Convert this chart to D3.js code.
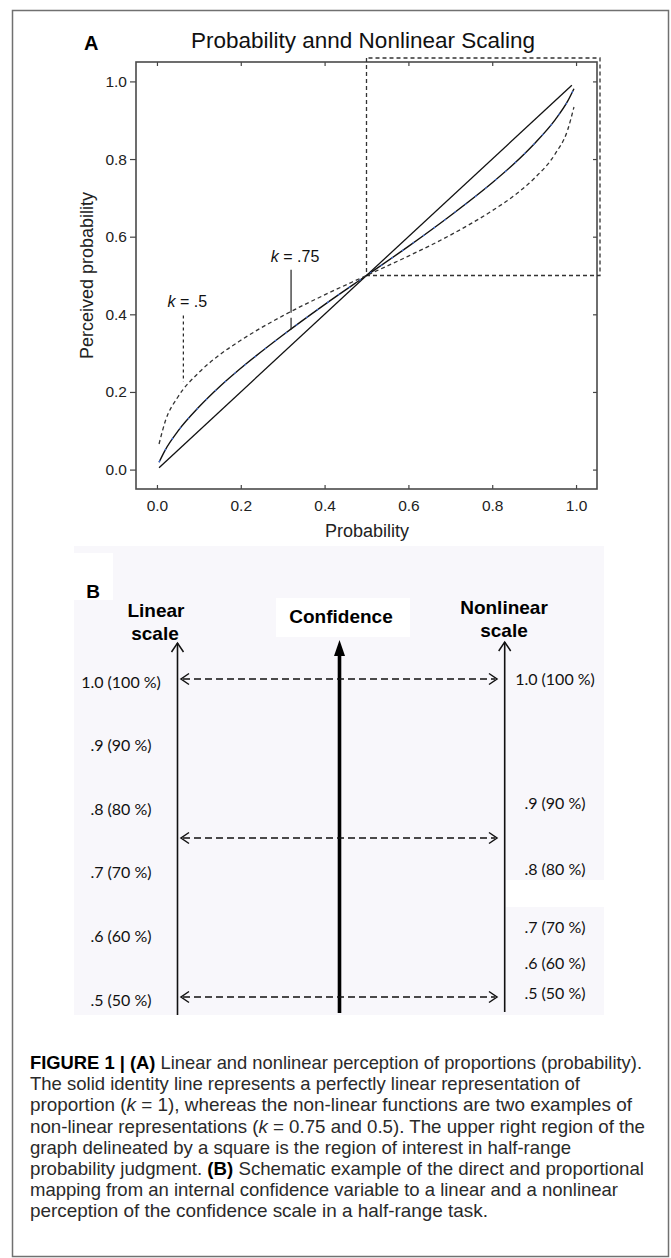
<!DOCTYPE html>
<html>
<head>
<meta charset="utf-8">
<script src="https://cdn.jsdelivr.net/npm/d3@7"></script>
<style>
  body { margin: 0; background: #fff; }
  svg { display: block; }
</style>
</head>
<body>
<div id="chart"></div>
<script>
// ---- Panel A data: probability vs perceived probability ----
const probGrid   = [0.005, 0.02, 0.05, 0.1, 0.15, 0.2, 0.3, 0.4, 0.5, 0.6, 0.7, 0.8, 0.85, 0.9, 0.95, 0.98, 0.995];
const k075Vals   = [0.019, 0.051, 0.099, 0.161, 0.214, 0.261, 0.346, 0.425, 0.5, 0.575, 0.654, 0.739, 0.786, 0.839, 0.901, 0.949, 0.981];
const k05Vals    = [0.066, 0.125, 0.187, 0.25, 0.296, 0.333, 0.396, 0.45, 0.5, 0.55, 0.604, 0.667, 0.704, 0.75, 0.813, 0.875, 0.934];
const identityX  = [0.005, 0.99];
const identityY  = [0.005, 0.99];
const axisTicks  = [0, 0.2, 0.4, 0.6, 0.8, 1.0];
const halfRange  = [0.5, 0.5];  // lower-left corner of the region of interest

// leader annotations: label, x value, top and bottom of the leader line
const kLabels  = ["k = .75", "k = .5"];
const kAt      = [0.32, 0.063];
const kTop     = [0.515, 0.397];
const kBottom  = [0.361, 0.226];

// ---- Panel B data: confidence mapped onto two scales ----
const linearTicks     = [1.0, 0.9, 0.8, 0.7, 0.6, 0.5];
const linearLabels    = ["1.0 (100 %)", ".9 (90 %)", ".8 (80 %)", ".7 (70 %)", ".6 (60 %)", ".5 (50 %)"];
const nonlinearTicks  = [1.0, 0.805, 0.70, 0.61, 0.553, 0.505];
const nonlinearLabels = ["1.0 (100 %)", ".9 (90 %)", ".8 (80 %)", ".7 (70 %)", ".6 (60 %)", ".5 (50 %)"];
const mappedLevels    = [1.0, 0.75, 0.5];

const captionLines = [
  [["b", "FIGURE 1 | (A)"], ["n", " Linear and nonlinear perception of proportions (probability)."]],
  [["n", "The solid identity line represents a perfectly linear representation of"]],
  [["n", "proportion ("], ["i", "k"], ["n", " = 1), whereas the non-linear functions are two examples of"]],
  [["n", "non-linear representations ("], ["i", "k"], ["n", " = 0.75 and 0.5). The upper right region of the"]],
  [["n", "graph delineated by a square is the region of interest in half-range"]],
  [["n", "probability judgment. "], ["b", "(B)"], ["n", " Schematic example of the direct and proportional"]],
  [["n", "mapping from an internal confidence variable to a linear and a nonlinear"]],
  [["n", "perception of the confidence scale in a half-range task."]]
];
const captionWidths = [612, 550, 602, 615, 541, 614, 588, 458];

const width = 671, height = 1258;
const sans = "'Liberation Sans', Arial, sans-serif";

const svg = d3.select("#chart")
    .append("svg")
    .attr("width", width)
    .attr("height", height);

svg.append("rect").attr("width", width).attr("height", height).attr("fill", "#fff");

// outer frame
svg.append("rect")
    .attr("x", 12.5).attr("y", 10.5)
    .attr("width", 656).attr("height", 1246)
    .attr("fill", "none")
    .attr("stroke", "#707070")
    .attr("stroke-width", 1.5);

// ================= Panel A =================
const x = d3.scaleLinear().domain([-0.05, 1.05]).range([136, 597]);
const y = d3.scaleLinear().domain([-0.05, 1.05]).range([489, 62]);

const gA = svg.append("g").style("font-family", sans);

gA.append("text")
    .attr("x", 84).attr("y", 50)
    .style("font-size", "20px").style("font-weight", "bold")
    .text("A");

gA.append("text")
    .attr("x", 363).attr("y", 48)
    .attr("text-anchor", "middle")
    .style("font-size", "22.5px")
    .attr("fill", "#111")
    .text("Probability annd Nonlinear Scaling");

const fmt = d3.format(".1f");

gA.append("g").attr("transform", "translate(136,0)")
    .call(d3.axisLeft(y).tickValues(axisTicks).tickSize(6).tickPadding(3).tickFormat(fmt));
gA.append("g").attr("transform", "translate(0,489)")
    .call(d3.axisBottom(x).tickValues(axisTicks).tickSize(-4).tickPadding(11).tickFormat(fmt));
gA.append("g").attr("transform", "translate(0,62)")
    .call(d3.axisTop(x).tickValues(axisTicks).tickSize(-4).tickFormat(""));
gA.append("g").attr("transform", "translate(597,0)")
    .call(d3.axisRight(y).tickValues(axisTicks).tickSize(-4).tickFormat(""));

gA.selectAll(".domain").remove();
gA.selectAll(".tick line").attr("stroke", "#444").attr("stroke-width", 1.2);
gA.selectAll(".tick text")
    .style("font-family", sans)
    .style("font-size", "15.5px")
    .attr("fill", "#222");

gA.append("rect")
    .attr("x", x.range()[0]).attr("y", y.range()[1])
    .attr("width", x.range()[1] - x.range()[0])
    .attr("height", y.range()[0] - y.range()[1])
    .attr("fill", "none")
    .attr("stroke", "#4a4a4a")
    .attr("stroke-width", 1.6);

gA.append("text")
    .attr("transform", "rotate(-90)")
    .attr("x", -y(0.5)).attr("y", 93)
    .attr("text-anchor", "middle")
    .style("font-size", "18px")
    .attr("fill", "#222")
    .text("Perceived probability");

gA.append("text")
    .attr("x", 367).attr("y", 537)
    .attr("text-anchor", "middle")
    .style("font-size", "18px")
    .attr("fill", "#222")
    .text("Probability");

// region of interest (dashed square)
gA.append("path")
    .attr("d", `M${x(halfRange[0])},58 L${x(halfRange[0])},${y(halfRange[1])} L600,${y(halfRange[1])} L600,58 Z`)
    .attr("fill", "none")
    .attr("stroke", "#333")
    .attr("stroke-width", 1.3)
    .attr("stroke-dasharray", "4,3");

const line = d3.line().x(d => x(d[0])).y(d => y(d[1])).curve(d3.curveMonotoneX);

gA.append("path")
    .datum(identityX.map((v, i) => [v, identityY[i]]))
    .attr("d", line)
    .attr("fill", "none")
    .attr("stroke", "#111")
    .attr("stroke-width", 1.3);

const k075 = probGrid.map((p, i) => [p, k075Vals[i]]);
gA.append("path").datum(k075).attr("d", line)
    .attr("fill", "none").attr("stroke", "#111").attr("stroke-width", 1.4);
gA.append("path").datum(k075).attr("d", line)
    .attr("fill", "none").attr("stroke", "#3d6fe0").attr("stroke-width", 1.1)
    .attr("stroke-dasharray", "2,11");

gA.append("path")
    .datum(probGrid.map((p, i) => [p, k05Vals[i]]))
    .attr("d", line)
    .attr("fill", "none")
    .attr("stroke", "#333")
    .attr("stroke-width", 1.3)
    .attr("stroke-dasharray", "4,3");

// k annotations
kLabels.forEach((lab, i) => {
    gA.append("line")
        .attr("x1", x(kAt[i])).attr("x2", x(kAt[i]))
        .attr("y1", y(kTop[i])).attr("y2", y(kBottom[i]))
        .attr("stroke", "#222")
        .attr("stroke-width", 1.2)
        .attr("stroke-dasharray", i === 0 ? "43,5" : "3,3");
    const t = gA.append("text")
        .attr("x", x(kAt[i]) + 4).attr("y", y(kTop[i]) - 8)
        .attr("text-anchor", "middle")
        .style("font-size", "16px")
        .attr("fill", "#111");
    t.append("tspan").style("font-style", "italic").text(lab.slice(0, 1));
    t.append("tspan").text(lab.slice(1));
});

// ================= Panel B =================
const yB = d3.scaleLinear().domain([0.5, 1]).range([997, 679]);
const linX = 177.5, confX = 339.5, nonX = 504.7;

const gB = svg.append("g");

gB.append("rect")
    .attr("x", 74).attr("y", 546).attr("width", 530).attr("height", 469)
    .attr("fill", "#f8f7fb");
gB.append("rect").attr("x", 74).attr("y", 553).attr("width", 39).attr("height", 47).attr("fill", "#fff");
gB.append("rect").attr("x", 276).attr("y", 598).attr("width", 134).attr("height", 39).attr("fill", "#fff");
gB.append("rect").attr("x", 506).attr("y", 880).attr("width", 98).attr("height", 27).attr("fill", "#fff");

const bold = { "font-family": sans, "font-weight": "bold", "font-size": "19px" };
function heading(txt, cx, by) {
    const t = gB.append("text").attr("x", cx).attr("y", by).attr("text-anchor", "middle").text(txt);
    Object.entries(bold).forEach(([k, v]) => t.style(k, v));
    return t;
}
heading("B", 93, 598);
heading("Linear", 156, 617);
heading("scale", 155, 640);
heading("Confidence", 341, 623);
heading("Nonlinear", 504, 614);
heading("scale", 504, 637);

// vertical scales
function openHead(cx, ty) {
    gB.append("path")
        .attr("d", `M${cx - 6},${ty + 9} L${cx},${ty} L${cx + 6},${ty + 9}`)
        .attr("fill", "none").attr("stroke", "#111").attr("stroke-width", 1.5);
}
gB.append("line").attr("x1", linX).attr("x2", linX).attr("y1", 643).attr("y2", 1015)
    .attr("stroke", "#111").attr("stroke-width", 1.6);
openHead(linX, 643);
gB.append("line").attr("x1", nonX).attr("x2", nonX).attr("y1", 642).attr("y2", 1012)
    .attr("stroke", "#111").attr("stroke-width", 1.6);
openHead(nonX, 642);
gB.append("line").attr("x1", confX).attr("x2", confX).attr("y1", 652).attr("y2", 1013)
    .attr("stroke", "#000").attr("stroke-width", 3.6);
gB.append("path")
    .attr("d", `M${confX - 5.5},${656} L${confX},${640} L${confX + 5.5},${656} Z`)
    .attr("fill", "#000");

// mapping arrows
mappedLevels.forEach(v => {
    const yy = yB(v);
    const x0 = 181, x1 = 497;
    gB.append("line").attr("x1", x0 + 2).attr("x2", x1 - 2).attr("y1", yy).attr("y2", yy)
        .attr("stroke", "#111").attr("stroke-width", 1.5).attr("stroke-dasharray", "7,4");
    gB.append("path").attr("d", `M${x0 + 8},${yy - 5.5} L${x0},${yy} L${x0 + 8},${yy + 5.5}`)
        .attr("fill", "none").attr("stroke", "#111").attr("stroke-width", 1.5);
    gB.append("path").attr("d", `M${x1 - 8},${yy - 5.5} L${x1},${yy} L${x1 - 8},${yy + 5.5}`)
        .attr("fill", "none").attr("stroke", "#111").attr("stroke-width", 1.5);
});

const labFont = "Lato, 'Open Sans', sans-serif";
gB.selectAll("text.lin")
    .data(linearTicks)
    .enter()
    .append("text")
    .classed("lin", true)
    .attr("x", 121)
    .attr("y", d => yB(d) + 3)
    .attr("dy", "0.35em")
    .attr("text-anchor", "middle")
    .style("font-family", labFont)
    .style("font-size", "16px")
    .attr("fill", "#111")
    .text((d, i) => linearLabels[i]);

gB.selectAll("text.non")
    .data(nonlinearTicks)
    .enter()
    .append("text")
    .classed("non", true)
    .attr("x", 555)
    .attr("y", d => yB(d))
    .attr("dy", "0.35em")
    .attr("text-anchor", "middle")
    .style("font-family", labFont)
    .style("font-size", "16px")
    .attr("fill", "#111")
    .text((d, i) => nonlinearLabels[i]);

// ================= Caption =================
const cap = svg.append("g").style("font-family", sans).style("font-size", "18.5px").attr("fill", "#2a2a2a");
captionLines.forEach((segs, i) => {
    const t = cap.append("text")
        .attr("x", 30)
        .attr("y", 1069 + i * 21.2)
        .attr("textLength", captionWidths[i])
        .attr("lengthAdjust", "spacingAndGlyphs");
    segs.forEach(([kind, s]) => {
        const sp = t.append("tspan").text(s);
        if (kind === "b") sp.style("font-weight", "bold").attr("fill", "#000");
        if (kind === "i") sp.style("font-style", "italic");
    });
});
</script>
</body>
</html>
